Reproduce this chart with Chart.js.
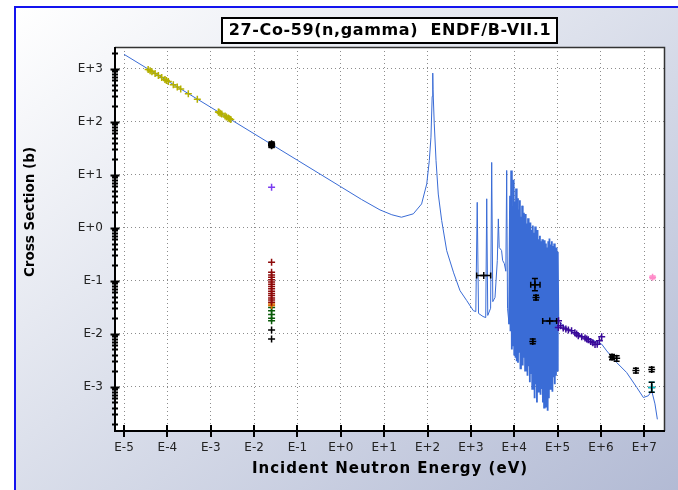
<!DOCTYPE html>
<html>
<head>
<meta charset="utf-8">
<script src="https://cdn.jsdelivr.net/npm/chart.js@4.4.0/dist/chart.umd.min.js"></script>
<style>
html, body { margin: 0; padding: 0; background: #fff; overflow: hidden; }
#frame {
    position: absolute; left: 14px; top: 6px; width: 666px; height: 486px;
    border-top: 2px solid #1414ee; border-left: 2px solid #1414ee;
    background: linear-gradient(to bottom right, #ffffff 0%, #dde1ec 45%, #b2bad4 100%);
}
#chart { position: absolute; left: 0; top: 0; }
</style>
</head>
<body>
<div id="frame"></div>
<canvas id="chart" width="678" height="490"></canvas>
<script>
// axis decades
const xTicks = [1e-5, 1e-4, 1e-3, 1e-2, 1e-1, 1e0, 1e1, 1e2, 1e3, 1e4, 1e5, 1e6, 1e7];
const yTicks = [1e-3, 1e-2, 1e-1, 1e0, 1e1, 1e2, 1e3];

// ENDF/B-VII.1 evaluation - thermal + first resonances
const lowE = [1e-5, 1e-4, 1e-3, 2.53e-2, 0.1, 1, 3, 8, 15, 25, 47, 73, 96, 110, 120, 128, 132, 134,
    143, 157, 177, 212, 277, 400, 561, 800, 1140, 1300, 1400, 1500, 1900, 2200, 2320, 2450,
    2850, 3020, 3200, 3600, 4070, 4300, 4500, 5100, 5400, 5900, 6400, 6700, 7000, 7600];
const lowXs = [1870, 591, 187, 37.2, 18.7, 5.9, 3.4, 2.16, 1.75, 1.57, 1.82, 2.8, 6.7, 18.5, 51, 300, 826, 400,
    91, 18.5, 4.3, 1.36, 0.367, 0.14, 0.0645, 0.042, 0.027, 0.026, 3.0, 0.024, 0.021, 0.020, 3.5, 0.022,
    0.03, 17, 0.04, 0.048, 0.24, 1.46, 0.42, 0.37, 0.24, 0.21, 0.15, 12, 0.03, 0.015];

// resolved resonance forest (8 - 100 keV)
const resE = [
    7.6e3,
    8.0e3, 8.2e3, 8.5e3, 8.8e3, 9.1e3, 9.4e3, 9.7e3, 1.00e4, 1.03e4, 1.07e4,
    1.10e4, 1.14e4, 1.18e4, 1.22e4, 1.26e4, 1.30e4, 1.35e4, 1.39e4, 1.43e4, 1.48e4,
    1.52e4, 1.57e4, 1.62e4, 1.67e4, 1.73e4, 1.78e4, 1.84e4, 1.90e4, 1.96e4, 2.02e4,
    2.08e4, 2.15e4, 2.22e4, 2.29e4, 2.36e4, 2.44e4, 2.52e4, 2.60e4, 2.68e4, 2.77e4,
    2.86e4, 2.95e4, 3.04e4, 3.14e4, 3.24e4, 3.34e4, 3.45e4, 3.56e4, 3.67e4, 3.79e4,
    3.91e4, 4.04e4, 4.17e4, 4.30e4, 4.44e4, 4.58e4, 4.73e4, 4.88e4, 5.04e4, 5.20e4,
    5.37e4, 5.54e4, 5.72e4, 5.90e4, 6.09e4, 6.29e4, 6.49e4, 6.70e4, 6.91e4, 7.13e4,
    7.36e4, 7.60e4, 7.84e4, 8.09e4, 8.35e4, 8.62e4, 8.90e4, 9.18e4, 9.48e4, 9.78e4,
    1.01e5, 1.04e5
];
const resXs = [
    0.015,
    4.0, 0.011, 12, 0.005, 2.5, 0.006, 8.0, 0.004, 3.1, 0.0035,
    5.5, 0.003, 3.6, 0.0028, 2.2, 0.0045, 3.3, 0.0022, 1.6, 0.003,
    2.6, 0.0025, 1.9, 0.0035, 1.5, 0.002, 1.8, 0.0028, 1.2, 0.0016,
    1.5, 0.0024, 1.0, 0.0012, 1.25, 0.0018, 0.9, 0.0009, 1.1, 0.0014,
    0.8, 0.0006, 1.05, 0.0011, 0.75, 0.0005, 0.9, 0.0008, 0.6, 0.0012,
    0.7, 0.0007, 0.55, 0.0009, 0.6, 0.0005, 0.45, 0.0004, 0.58, 0.0007,
    0.5, 0.0004, 0.42, 0.00035, 0.55, 0.0006, 0.62, 0.0009, 0.48, 0.0012,
    0.55, 0.0008, 0.45, 0.0015, 0.5, 0.0011, 0.4, 0.0016, 0.42, 0.002,
    0.35, 0.0175
];

// smooth fast region
const fastE = [1.04e5, 1.2e5, 1.5e5, 2.3e5, 5.6e5, 1.04e6, 1.36e6, 2.3e6, 3.9e6, 6.7e6, 9.5e6, 1.24e7, 1.48e7, 1.76e7, 2.0e7];
const fastXs = [0.0175, 0.0155, 0.013, 0.0105, 0.0079, 0.0063, 0.0047, 0.00284, 0.00184, 0.00096, 0.00062, 0.00067, 0.00083, 0.00047, 0.00024];

// EXFOR measurements
const yellowE = [3.6e-5, 4.0e-5, 4.4e-5, 5.2e-5, 6.2e-5, 7.4e-5, 8.8e-5, 9.5e-5, 1.05e-4, 1.37e-4, 1.69e-4, 2.03e-4,
    3.04e-4, 4.9e-4, 1.5e-3, 1.55e-3, 1.65e-3, 1.79e-3, 2.14e-3, 2.3e-3, 2.54e-3, 2.7e-3, 2.9e-3];
const yellowXs = [970, 920, 880, 810, 745, 680, 625, 600, 575, 500, 452, 412,
    338, 266, 152, 150, 145, 140, 128, 123, 117, 113, 110];

const thermalE = 0.0253;
const thBlackXs = [37.2, 36.0, 38.5, 35.0, 0.0116, 0.0079];
const thBlackLo = [33.5, 33.0, 35.5, 32.5, null, null];
const thBlackHi = [41.0, 39.5, 41.5, 38.0, null, null];
const thVioletXs = [5.8];
const thRedXs = [0.221, 0.143, 0.128, 0.115, 0.104, 0.094, 0.085, 0.077, 0.07, 0.063, 0.057, 0.052, 0.047, 0.043, 0.039];
const thOrangeXs = [0.036, 0.034];
const thGreenXs = [0.031, 0.027, 0.023, 0.0195, 0.0175];

const blackE = [1.98e3, 3.0e4, 3.18e4, 2.67e4, 6.6e4, 1.8e6, 2.3e6, 6.4e6, 1.48e7, 1.48e7];
const blackXs = [0.124, 0.0836, 0.048, 0.0071, 0.0172, 0.0036, 0.0034, 0.002, 0.0021, 0.00096];
const blackLo = [null, 0.0644, 0.043, 0.0064, null, 0.0032, 0.003, 0.0018, 0.0019, 0.00078];
const blackHi = [null, 0.110, 0.053, 0.0079, null, 0.004, 0.0038, 0.0022, 0.0023, 0.0012];
const blackELo = [1.36e3, 2.4e4, null, null, 4.53e4, 1.65e6, null, null, null, null];
const blackEHi = [2.86e3, 3.93e4, null, null, 9.5e4, 1.95e6, null, null, null, null];

const indigoE = [1.05e5, 1.04e5, 1.17e5, 1.35e5, 1.55e5, 1.77e5, 2.1e5, 2.5e5, 2.75e5, 3.0e5, 3.6e5, 4.3e5,
    4.7e5, 5.1e5, 5.8e5, 6.5e5, 7.3e5, 8.2e5, 9.2e5, 1.04e6];
const indigoXs = [0.0175, 0.013, 0.014, 0.0127, 0.0122, 0.0116, 0.0113, 0.0104, 0.0098, 0.0091, 0.0087, 0.0082,
    0.0079, 0.0076, 0.0071, 0.0067, 0.0062, 0.0063, 0.0073, 0.0087];

const cyanE = [1.48e7];
const cyanXs = [0.00096];
const cyanLo = [0.00078];
const cyanHi = [0.0012];

const pinkE = [1.55e7];
const pinkXs = [0.115];
const pinkLo = [0.108];
const pinkHi = [0.122];

function pts(E, S, lo, hi, eLo, eHi) {
    return S.map((s, i) => {
        const p = { x: Array.isArray(E) ? E[i] : E, y: s };
        if (lo && lo[i] != null) { p.yMin = lo[i]; p.yMax = hi[i]; }
        if (eLo && eLo[i] != null) { p.xMin = eLo[i]; p.xMax = eHi[i]; }
        return p;
    });
}

function expSet(data, color, errorBars) {
    return {
        data: data,
        borderColor: color,
        backgroundColor: color,
        pointStyle: 'cross',
        pointRadius: 3.5,
        pointBorderWidth: 1.5,
        pointHoverRadius: 3.5,
        errorBars: !!errorBars,
        order: 0
    };
}

function endfSet(data, width) {
    return {
        data: data,
        showLine: true,
        borderColor: '#3a6cd6',
        borderWidth: width,
        pointRadius: 0,
        tension: 0,
        order: 10
    };
}

function expLabel(v) {
    const e = Math.round(Math.log10(v));
    return 'E' + (e >= 0 ? '+' : '') + e;
}

// error bars, frame, tick marks, titles
const errorBarPlugin = {
    id: 'errorBars',
    afterDatasetsDraw(chart) {
        const ctx = chart.ctx, xs = chart.scales.x, ys = chart.scales.y, a = chart.chartArea;
        ctx.save();
        ctx.beginPath();
        ctx.rect(a.left, a.top, a.right - a.left, a.bottom - a.top);
        ctx.clip();
        chart.data.datasets.forEach(ds => {
            if (!ds.errorBars) return;
            ctx.strokeStyle = ds.borderColor;
            ctx.lineWidth = 1.5;
            ds.data.forEach(p => {
                const px = xs.getPixelForValue(p.x), py = ys.getPixelForValue(p.y);
                ctx.beginPath();
                if (p.yMin !== undefined) {
                    const y1 = ys.getPixelForValue(p.yMin), y2 = ys.getPixelForValue(p.yMax);
                    ctx.moveTo(px, y1); ctx.lineTo(px, y2);
                    ctx.moveTo(px - 3, y1); ctx.lineTo(px + 3, y1);
                    ctx.moveTo(px - 3, y2); ctx.lineTo(px + 3, y2);
                }
                if (p.xMin !== undefined) {
                    const x1 = xs.getPixelForValue(p.xMin), x2 = xs.getPixelForValue(p.xMax);
                    ctx.moveTo(x1, py); ctx.lineTo(x2, py);
                    ctx.moveTo(x1, py - 3); ctx.lineTo(x1, py + 3);
                    ctx.moveTo(x2, py - 3); ctx.lineTo(x2, py + 3);
                }
                ctx.stroke();
            });
        });
        ctx.restore();
    }
};

const decorPlugin = {
    id: 'decor',
    beforeDraw(chart) {
        const { ctx, chartArea: a } = chart;
        ctx.save();
        ctx.fillStyle = '#ffffff';
        ctx.fillRect(a.left, a.top, a.right - a.left, a.bottom - a.top);
        ctx.restore();
    },
    afterDraw(chart) {
        const { ctx, chartArea: a, scales } = chart;
        const xs = scales.x, ys = scales.y;
        ctx.save();

        // frame
        ctx.strokeStyle = '#333';
        ctx.lineWidth = 1.5;
        ctx.beginPath();
        ctx.moveTo(a.left, a.top + 0.5);
        ctx.lineTo(a.right - 0.5, a.top + 0.5);
        ctx.lineTo(a.right - 0.5, a.bottom);
        ctx.stroke();
        ctx.strokeStyle = '#000';
        ctx.lineWidth = 2;
        ctx.beginPath();
        ctx.moveTo(a.left, a.top);
        ctx.lineTo(a.left, a.bottom);
        ctx.lineTo(a.right, a.bottom);
        ctx.stroke();

        // y axis ticks: decades and 2..9 minors crossing the axis
        ctx.lineWidth = 2;
        ctx.fillStyle = '#000';
        for (let d = -4; d <= 3; d++) {
            for (let m = 1; m <= 9; m++) {
                const v = m * Math.pow(10, d);
                if (v < ys.min || v > ys.max) continue;
                const py = Math.round(ys.getPixelForValue(v)) + 0.5;
                const half = m === 1 ? 4.5 : 3;
                ctx.beginPath();
                ctx.moveTo(a.left - half, py);
                ctx.lineTo(a.left + half, py);
                ctx.stroke();
                if (m === 1) {
                    ctx.beginPath();
                    ctx.moveTo(a.left - 4, py);
                    ctx.lineTo(a.left + 4, py);
                    ctx.lineTo(a.left, py + 4);
                    ctx.closePath();
                    ctx.fill();
                }
            }
        }

        // x axis ticks
        xTicks.forEach(v => {
            const px = Math.round(xs.getPixelForValue(v));
            ctx.beginPath();
            ctx.moveTo(px, a.bottom - 6);
            ctx.lineTo(px, a.bottom + 6);
            ctx.stroke();
        });

        // title box
        ctx.fillStyle = '#fff';
        ctx.fillRect(222, 18, 335, 25);
        ctx.strokeStyle = '#000';
        ctx.lineWidth = 2;
        ctx.strokeRect(222, 18, 335, 25);
        ctx.fillStyle = '#000';
        ctx.textAlign = 'center';
        ctx.textBaseline = 'middle';
        ctx.font = 'bold 16px "DejaVu Sans"';
        ctx.letterSpacing = '0.6px';
        ctx.fillText('27-Co-59(n,gamma)  ENDF/B-VII.1', 390, 31);

        // axis titles
        ctx.font = 'bold 15px "DejaVu Sans"';
        ctx.letterSpacing = '1px';
        ctx.fillText('Incident Neutron Energy (eV)', (a.left + a.right) / 2, 469);
        ctx.letterSpacing = '0px';
        ctx.translate(30, 212);
        ctx.rotate(-Math.PI / 2);
        ctx.font = 'bold 13.5px "DejaVu Sans"';
        ctx.fillText('Cross Section (b)', 0, 0);
        ctx.restore();
    }
};

new Chart(document.getElementById('chart'), {
    type: 'scatter',
    data: {
        datasets: [
            endfSet(pts(lowE, lowXs), 1),
            endfSet(pts(resE, resXs), 1.8),
            endfSet(pts(fastE, fastXs), 1),
            expSet(pts(yellowE, yellowXs), '#b4b000'),
            expSet(pts(thermalE, thBlackXs, thBlackLo, thBlackHi), '#000000', true),
            expSet(pts(thermalE, thVioletXs), '#7a3cf0'),
            expSet(pts(thermalE, thRedXs), '#8e0a0a'),
            expSet(pts(thermalE, thOrangeXs), '#d86a00'),
            expSet(pts(thermalE, thGreenXs), '#0a5a0a'),
            expSet(pts(indigoE, indigoXs), '#3a0a9a'),
            expSet(pts(cyanE, cyanXs, cyanLo, cyanHi), '#00c8d0', true),
            expSet(pts(pinkE, pinkXs, pinkLo, pinkHi), '#ff8ac8', true),
            expSet(pts(blackE, blackXs, blackLo, blackHi, blackELo, blackEHi), '#000000', true)
        ]
    },
    options: {
        responsive: false,
        devicePixelRatio: 1,
        animation: false,
        layout: { padding: { top: 47, right: 13, left: 0, bottom: 0 } },
        plugins: {
            legend: { display: false },
            tooltip: { enabled: false },
            title: { display: false }
        },
        scales: {
            x: {
                type: 'logarithmic',
                position: 'bottom',
                min: 6.19e-6,
                max: 3.0e7,
                afterBuildTicks: scale => { scale.ticks = xTicks.map(v => ({ value: v })); },
                afterFit: scale => { scale.height = 59; },
                ticks: {
                    callback: expLabel,
                    autoSkip: false,
                    maxRotation: 0,
                    padding: 10,
                    color: '#222',
                    font: { family: 'DejaVu Sans', size: 12 }
                },
                grid: { color: '#8c8c8c', lineWidth: 1, drawTicks: false },
                border: { display: false, dash: [1, 3] }
            },
            y: {
                type: 'logarithmic',
                min: 1.445e-4,
                max: 2570,
                afterBuildTicks: scale => { scale.ticks = yTicks.map(v => ({ value: v })); },
                afterFit: scale => { scale.width = 115; },
                ticks: {
                    callback: expLabel,
                    autoSkip: false,
                    padding: 12,
                    color: '#222',
                    font: { family: 'DejaVu Sans', size: 12 }
                },
                grid: { color: '#8c8c8c', lineWidth: 1, drawTicks: false },
                border: { display: false, dash: [1, 3] }
            }
        }
    },
    plugins: [decorPlugin, errorBarPlugin]
});
</script>
</body>
</html>
